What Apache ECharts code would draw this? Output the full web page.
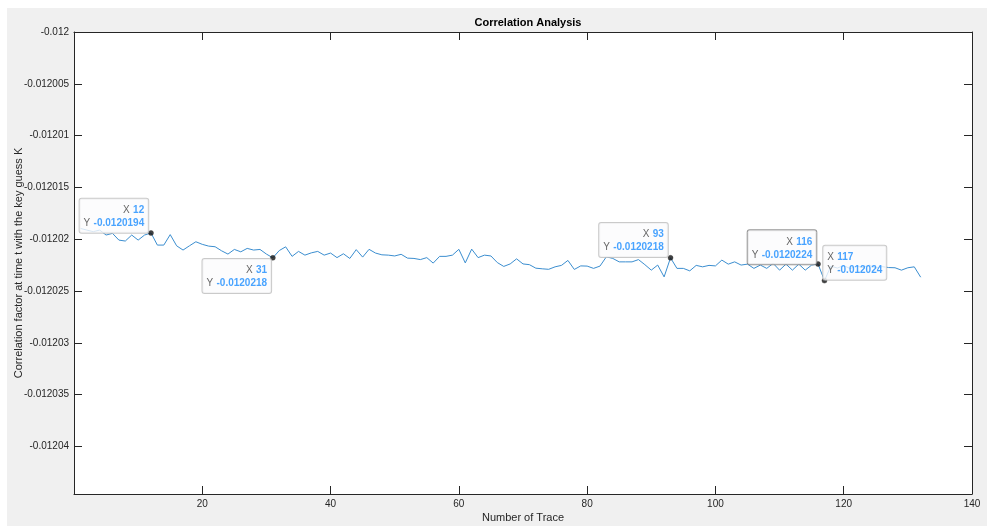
<!DOCTYPE html>
<html>
<head>
<meta charset="utf-8">
<title>Correlation Analysis</title>
<script src="https://cdn.jsdelivr.net/npm/echarts@6/dist/echarts.min.js"></script>
<style>
  html, body { margin: 0; padding: 0; background: #ffffff; }
  #frame { position: absolute; left: 7px; top: 8px; width: 980px; height: 518px; background: #f0f0f0; }
  #chart { position: absolute; left: 0; top: 0; width: 987px; height: 526px; }
</style>
</head>
<body>
<div id="frame"></div>
<div id="chart"></div>
<script>
// Correlation factor at time t for the key guess K, one value per trace (traces 1..132)
const correlation = [
  -0.01201896, -0.01201912, -0.01201928, -0.01201912, -0.01201960, -0.01201944,
  -0.01202009, -0.01202018, -0.01201960, -0.01202009, -0.01201960, -0.0120194,
  -0.01202057, -0.01202057, -0.01201956, -0.01202064, -0.01202105, -0.01202064,
  -0.01202025, -0.01202050, -0.01202067, -0.01202073, -0.01202112, -0.01202144,
  -0.01202099, -0.01202122, -0.01202089, -0.01202105, -0.01202099, -0.01202144,
  -0.0120218,  -0.01202110, -0.01202074, -0.01202166, -0.01202118, -0.01202154,
  -0.01202132, -0.01202118, -0.01202154, -0.01202134, -0.01202178, -0.01202141,
  -0.01202186, -0.01202101, -0.01202173, -0.01202098, -0.01202134, -0.01202151,
  -0.01202154, -0.01202162, -0.01202146, -0.01202183, -0.01202186, -0.01202197,
  -0.01202178, -0.01202231, -0.01202166, -0.01202166, -0.01202154, -0.01202098,
  -0.01202229, -0.01202096, -0.01202178, -0.01202154, -0.01202162, -0.01202226,
  -0.01202263, -0.01202239, -0.01202190, -0.01202239, -0.01202246, -0.01202280,
  -0.01202286, -0.01202291, -0.01202267, -0.01202253, -0.01202205, -0.01202292,
  -0.01202258, -0.01202260, -0.01202282, -0.01202260, -0.01202170, -0.01202186,
  -0.01202219, -0.01202219, -0.01202219, -0.01202197, -0.01202246, -0.01202299,
  -0.01202250, -0.01202364, -0.0120218,  -0.01202282, -0.01202282, -0.01202306,
  -0.01202253, -0.01202267, -0.01202253, -0.01202258, -0.01202202, -0.01202241,
  -0.01202219, -0.01202250, -0.01202241, -0.01202282, -0.01202250, -0.01202282,
  -0.01202234, -0.01202299, -0.01202241, -0.01202299, -0.01202241, -0.01202299,
  -0.01202250, -0.0120224,  -0.012024,   -0.01202260, -0.01202279, -0.01202255,
  -0.01202284, -0.01202260, -0.01202274, -0.01202250, -0.01202279, -0.01202265,
  -0.01202274, -0.01202276, -0.01202299, -0.01202276, -0.01202267, -0.01202367
];

// Trace numbers that carry a data tip
const tipTraces = [12, 31, 93, 116, 117];

// Tick values on both axes
const xTicks = [20, 40, 60, 80, 100, 120, 140];
const yTicks = [-0.012, -0.012005, -0.01201, -0.012015, -0.01202, -0.012025, -0.01203, -0.012035, -0.01204];

const FONT = 'Liberation Sans, Arial, Helvetica, sans-serif';
const INK = '#262626';

// Data-tip box placement around its marker
const tipPlacement = {
  12:  { position: [0, 2.5], align: 'right', verticalAlign: 'bottom' },
  31:  { position: [1, 4],   align: 'right', verticalAlign: 'top' },
  93:  { position: [0, 2],   align: 'right', verticalAlign: 'bottom' },
  116: { position: [1, 3],   align: 'right', verticalAlign: 'bottom', borderColor: '#7d7d7d' },
  117: { position: [1.5, 2], align: 'left',  verticalAlign: 'bottom' }
};

const fmtY = v => String(parseFloat(Number(v).toPrecision(6)));

const linePoints = correlation.map((v, i) => [i + 1, v]);

const tipPoints = tipTraces.map(t => {
  const p = tipPlacement[t];
  return {
    value: [t, correlation[t - 1]],
    label: {
      position: p.position,
      align: p.align,
      verticalAlign: p.verticalAlign,
      borderColor: p.borderColor || '#bdbdbd'
    }
  };
});

// Axis box: ticks drawn inward on all four sides
const boxAxis = (extra) => Object.assign({
  type: 'value',
  axisLine: { show: true, onZero: false, lineStyle: { color: INK, width: 1 } },
  splitLine: { show: false }
}, extra);

const chart = echarts.init(document.getElementById('chart'), null, { renderer: 'canvas' });

chart.setOption({
  animation: false,
  backgroundColor: 'transparent',
  title: {
    text: 'Correlation Analysis',
    left: 523,
    top: 12,
    textAlign: 'center',
    textStyle: { fontFamily: FONT, fontSize: 11, fontWeight: 'bold', color: '#000' }
  },
  grid: {
    left: 74, right: 15, top: 32, bottom: 32,
    outerBoundsMode: 'none',
    containLabel: false,
    show: true, backgroundColor: '#ffffff', borderWidth: 0
  },
  xAxis: [
    boxAxis({
      min: 0, max: 140,
      name: 'Number of Trace', nameLocation: 'middle', nameGap: 18,
      nameMoveOverlap: false,
      nameTextStyle: { fontFamily: FONT, fontSize: 11, color: INK },
      axisTick: { show: true, inside: true, length: 8, customValues: xTicks, lineStyle: { color: INK } },
      axisLabel: { customValues: xTicks, fontFamily: FONT, fontSize: 10, color: INK, margin: 5 }
    }),
    boxAxis({
      position: 'top', min: 0, max: 140,
      axisTick: { show: true, inside: true, length: 8, customValues: xTicks, lineStyle: { color: INK } },
      axisLabel: { show: false }
    })
  ],
  yAxis: [
    boxAxis({
      min: -0.0120446, max: -0.012,
      name: 'Correlation factor at time t with the key guess K',
      nameLocation: 'middle', nameGap: 50,
      nameMoveOverlap: false,
      nameTextStyle: { fontFamily: FONT, fontSize: 11, color: INK },
      axisTick: { show: true, inside: true, length: 8, customValues: yTicks, lineStyle: { color: INK } },
      axisLabel: { customValues: yTicks, formatter: fmtY, fontFamily: FONT, fontSize: 10, color: INK, margin: 5 }
    }),
    boxAxis({
      position: 'right', min: -0.0120446, max: -0.012,
      axisTick: { show: true, inside: true, length: 8, customValues: yTicks, lineStyle: { color: INK } },
      axisLabel: { show: false }
    })
  ],
  series: [
    {
      type: 'line',
      data: linePoints,
      showSymbol: false,
      silent: true,
      z: 2,
      lineStyle: { color: '#3b8ed0', width: 1 }
    },
    {
      type: 'scatter',
      data: tipPoints,
      silent: true,
      z: 5,
      symbol: 'circle',
      symbolSize: 5,
      itemStyle: { color: '#111111', borderColor: '#333333', borderWidth: 0.5 },
      label: {
        show: true,
        formatter: p => '{k|X} {v|' + p.value[0] + '}\n{k|Y} {v|' + fmtY(p.value[1]) + '}',
        backgroundColor: '#fbfbfd',
        borderWidth: 1,
        borderRadius: 2,
        padding: [5, 4, 3, 4],
        lineHeight: 13,
        rich: {
          k: { fontFamily: FONT, fontSize: 10, color: '#404040', lineHeight: 13 },
          v: { fontFamily: FONT, fontSize: 10, color: '#1a8cff', fontWeight: 'bold', lineHeight: 13 }
        }
      }
    }
  ]
});
</script>
</body>
</html>
